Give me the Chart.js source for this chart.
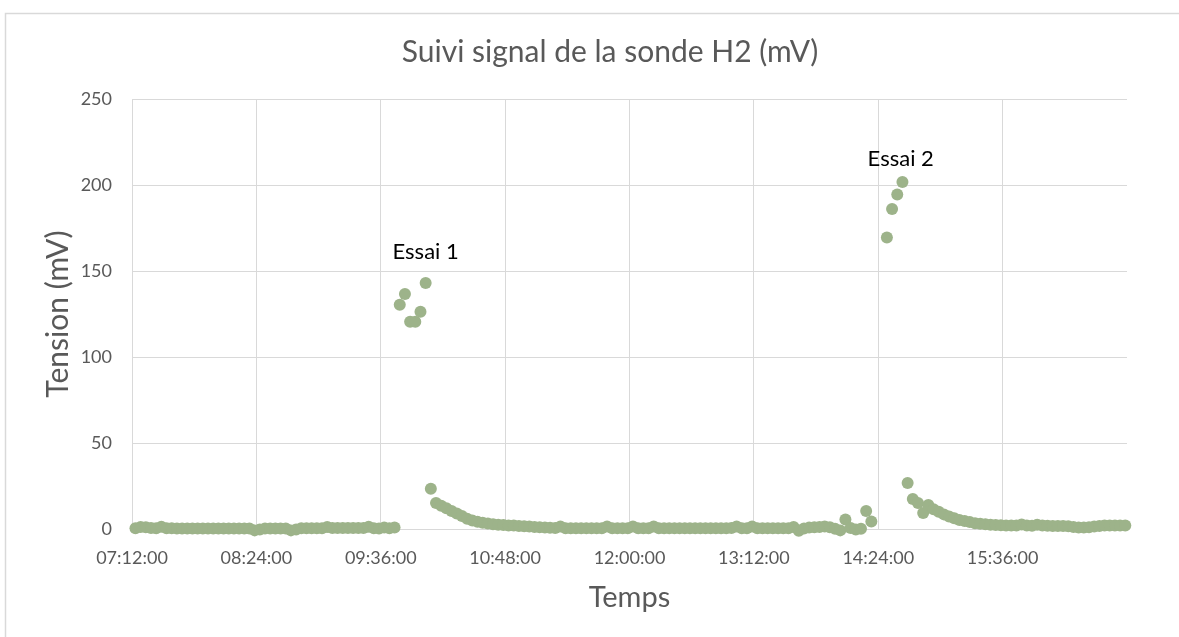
<!DOCTYPE html>
<html lang="fr">
<head>
<meta charset="utf-8">
<title>Suivi signal de la sonde H2 (mV)</title>
<script src="https://cdn.jsdelivr.net/npm/chart.js@4/dist/chart.umd.min.js"></script>
<style>
  html, body { margin: 0; padding: 0; background: #ffffff; }
  #wrap { position: relative; width: 1179px; height: 637px; overflow: hidden; }
</style>
</head>
<body>
<div id="wrap"><canvas id="chart" width="1179" height="637"></canvas></div>
<script>
// Heures de mesure (relevé toutes les 3 min ; pas de relevé à 14:23 et 14:26)
const sampleTimes = [
  '07:14','07:17','07:20','07:23','07:26','07:29','07:32','07:35','07:38','07:41','07:44','07:47','07:50','07:53','07:56','07:59',
  '08:02','08:05','08:08','08:11','08:14','08:17','08:20','08:23','08:26','08:29','08:32','08:35','08:38','08:41','08:44','08:47','08:50','08:53','08:56','08:59',
  '09:02','09:05','09:08','09:11','09:14','09:17','09:20','09:23','09:26','09:29','09:32','09:35','09:38','09:41','09:44','09:47','09:50','09:53','09:56','09:59',
  '10:02','10:05','10:08','10:11','10:14','10:17','10:20','10:23','10:26','10:29','10:32','10:35','10:38','10:41','10:44','10:47','10:50','10:53','10:56','10:59',
  '11:02','11:05','11:08','11:11','11:14','11:17','11:20','11:23','11:26','11:29','11:32','11:35','11:38','11:41','11:44','11:47','11:50','11:53','11:56','11:59',
  '12:02','12:05','12:08','12:11','12:14','12:17','12:20','12:23','12:26','12:29','12:32','12:35','12:38','12:41','12:44','12:47','12:50','12:53','12:56','12:59',
  '13:02','13:05','13:08','13:11','13:14','13:17','13:20','13:23','13:26','13:29','13:32','13:35','13:38','13:41','13:44','13:47','13:50','13:53','13:56','13:59',
  '14:02','14:05','14:08','14:11','14:14','14:17','14:20','14:29','14:32','14:35','14:38','14:41','14:44','14:47','14:50','14:53','14:56','14:59',
  '15:02','15:05','15:08','15:11','15:14','15:17','15:20','15:23','15:26','15:29','15:32','15:35','15:38','15:41','15:44','15:47','15:50','15:53','15:56','15:59',
  '16:02','16:05','16:08','16:11','16:14','16:17','16:20','16:23','16:26','16:29','16:32','16:35','16:38','16:41','16:44','16:47'
];

// Tension mesurée par la sonde H2 (mV), une valeur par heure de mesure
const signalMv = [
  0.5, 1.2, 1.0, 0.6, 0.5, 1.3, 0.5, 0.4, 0.3, 0.3, 0.3, 0.3, 0.3, 0.3, 0.3, 0.3,
  0.3, 0.3, 0.3, 0.3, 0.3, 0.3, 0.3, -0.8, -0.3, 0.3, 0.3, 0.3, 0.3, 0.3, -0.8, -0.3, 0.4, 0.4, 0.4, 0.4,
  0.4, 1.2, 0.6, 0.6, 0.6, 0.6, 0.6, 0.6, 0.6, 1.3, 0.5, 0.3, 0.8, 0.4, 0.9, 130.4, 136.6, 120.5, 120.5, 126.3,
  143.0, 23.4, 15.1, 13.5, 12.0, 10.5, 9.0, 7.5, 6.0, 5.0, 4.2, 3.6, 3.2, 2.8, 2.5, 2.3, 2.1, 2.0, 1.8, 1.6,
  1.4, 1.2, 1.0, 0.9, 0.7, 0.6, 1.5, 0.5, 0.5, 0.5, 0.5, 0.5, 0.5, 0.5, 0.5, 1.4, 0.5, 0.5, 0.5, 0.5,
  1.5, 0.5, 0.5, 0.5, 1.5, 0.4, 0.4, 0.4, 0.4, 0.4, 0.4, 0.4, 0.4, 0.4, 0.4, 0.4, 0.4, 0.4, 0.4, 0.6,
  1.5, 0.5, 0.5, 1.5, 0.5, 0.5, 0.5, 0.5, 0.5, 0.5, 0.5, 1.2, -1.0, 0.3, 0.8, 1.0, 1.2, 1.5, 1.0, 0.2,
  -0.8, 5.5, 0.6, -0.3, 0.2, 10.5, 4.4, 169.5, 186.0, 194.5, 201.8, 26.7, 17.4, 15.1, 9.3, 14.0, 11.5, 10.0,
  8.5, 7.3, 6.3, 5.3, 4.6, 4.0, 3.4, 3.0, 2.7, 2.5, 2.3, 2.2, 2.1, 2.0, 2.0, 2.6, 2.0, 1.9, 2.5, 2.0,
  1.9, 1.8, 1.8, 1.7, 1.6, 1.2, 0.9, 0.8, 1.0, 1.5, 1.8, 2.0, 2.0, 2.1, 2.0, 2.0
];

// Graduations de l'axe des temps et bornes de l'axe
const timeTicks = ['07:12:00','08:24:00','09:36:00','10:48:00','12:00:00','13:12:00','14:24:00','15:36:00'];
const timeAxisStart = '07:12:00';
const timeAxisEnd = '16:48:00';
const tensionTicks = [0, 50, 100, 150, 200, 250];

// Repères des deux essais (heure, niveau en mV)
const trialNames = ['Essai 1', 'Essai 2'];
const trialTimes = ['10:02', '14:37'];
const trialLevels = [161, 215];

const chartTitle = 'Suivi signal de la sonde H2 (mV)';

function toMinutes(hms) {
  const parts = hms.split(':').map(Number);
  return parts[0] * 60 + parts[1] + (parts[2] || 0) / 60;
}

const FONT = 'Lato, "Open Sans", "DejaVu Sans", sans-serif';
const GREY_TEXT = '#595959';
const GRID = '#d9d9d9';

// Fond, cadre extérieur et titre du graphique
const framePlugin = {
  id: 'frame',
  beforeDraw(chart) {
    const c = chart.ctx;
    c.save();
    c.fillStyle = '#ffffff';
    c.fillRect(0, 0, chart.width, chart.height);
    c.strokeStyle = GRID;
    c.lineWidth = 1.5;
    c.beginPath();
    c.moveTo(5.5, chart.height);
    c.lineTo(5.5, 13.5);
    c.lineTo(chart.width, 13.5);
    c.stroke();
    c.fillStyle = GREY_TEXT;
    c.font = '30px ' + FONT;
    c.textAlign = 'center';
    c.textBaseline = 'middle';
    c.fillText(chartTitle, 610, 52);
    c.restore();
  }
};

// Étiquettes « Essai n » placées dans le repère des données
const trialLabelPlugin = {
  id: 'trialLabels',
  afterDatasetsDraw(chart) {
    const c = chart.ctx;
    const xs = chart.scales.x, ys = chart.scales.y;
    c.save();
    c.fillStyle = '#000000';
    c.font = '22px ' + FONT;
    c.textAlign = 'center';
    c.textBaseline = 'middle';
    trialNames.forEach((name, i) => {
      c.fillText(name, xs.getPixelForValue(toMinutes(trialTimes[i])), ys.getPixelForValue(trialLevels[i]));
    });
    c.restore();
  }
};

function draw() {
  const points = sampleTimes.map((t, i) => ({ x: toMinutes(t), y: signalMv[i] }));

  new Chart(document.getElementById('chart'), {
    type: 'scatter',
    data: {
      datasets: [{
        label: 'Sonde H2',
        data: points,
        backgroundColor: '#9db38a',
        borderWidth: 0,
        pointRadius: 6,
        pointHoverRadius: 6,
        clip: false
      }]
    },
    options: {
      responsive: false,
      animation: false,
      devicePixelRatio: 1,
      layout: { padding: { left: 5, top: 99, right: 52, bottom: 0 } },
      plugins: {
        legend: { display: false },
        tooltip: { enabled: false },
        title: { display: false }
      },
      scales: {
        x: {
          type: 'linear',
          min: toMinutes(timeAxisStart),
          max: toMinutes(timeAxisEnd),
          afterBuildTicks: (s) => { s.ticks = timeTicks.map(t => ({ value: toMinutes(t) })); },
          afterFit: (s) => { s.height = 108; },
          grid: { color: GRID, lineWidth: 1, drawTicks: false },
          border: { color: GRID, width: 1 },
          ticks: {
            padding: 18,
            color: GREY_TEXT,
            font: { family: FONT, size: 18 },
            maxRotation: 0,
            autoSkip: false,
            callback: (v, i) => timeTicks[i]
          },
          title: {
            display: true,
            text: 'Temps',
            color: GREY_TEXT,
            font: { family: FONT, size: 29 },
            padding: { top: 0, bottom: 22 }
          }
        },
        y: {
          min: 0,
          max: 250,
          afterBuildTicks: (s) => { s.ticks = tensionTicks.map(v => ({ value: v })); },
          afterFit: (s) => { s.width = 127; },
          grid: { color: GRID, lineWidth: 1, drawTicks: false },
          border: { color: GRID, width: 1 },
          ticks: {
            padding: 20,
            color: GREY_TEXT,
            font: { family: FONT, size: 18 }
          },
          title: {
            display: true,
            text: 'Tension (mV)',
            color: GREY_TEXT,
            font: { family: FONT, size: 30 },
            padding: { top: 35, bottom: 0 }
          }
        }
      }
    },
    plugins: [framePlugin, trialLabelPlugin]
  });
}

const fontsReady = document.fonts && document.fonts.load
  ? Promise.all([document.fonts.load('30px Lato'), document.fonts.load('18px Lato')]).catch(() => null)
  : Promise.resolve();
fontsReady.then(draw, draw);
</script>
</body>
</html>
